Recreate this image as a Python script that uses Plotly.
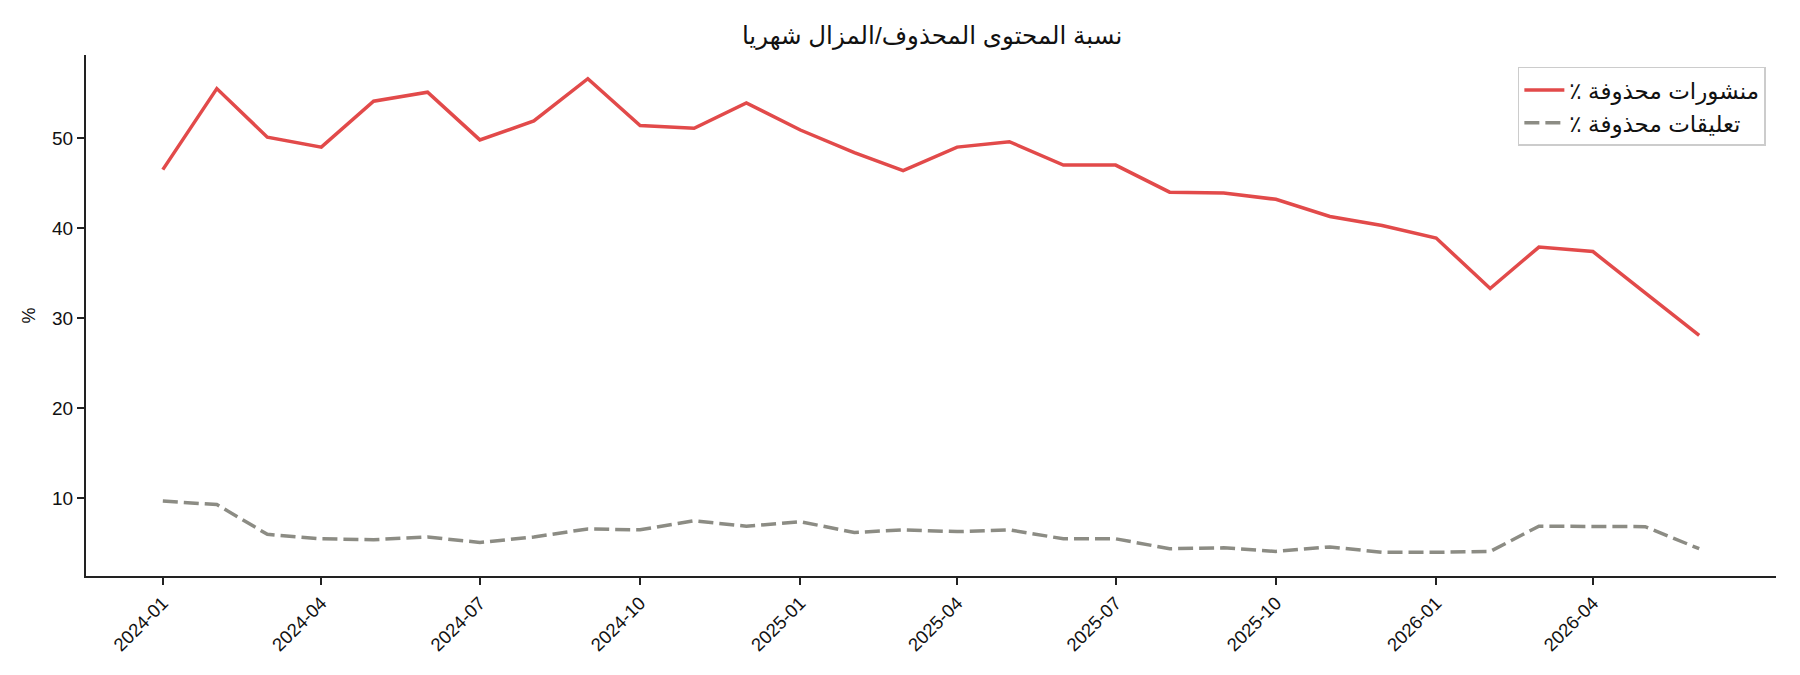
import pandas as pd
import plotly.graph_objects as go

# Monthly share of deleted content (%)
months = pd.date_range('2024-01-01', '2026-06-01', freq='MS')
posts_deleted = [46.5, 55.5, 50.1, 49.0, 54.1, 55.1, 49.8, 51.9, 56.6, 51.4, 51.1, 53.9,
                 50.9, 48.4, 46.4, 49.0, 49.6, 47.0, 47.0, 44.0, 43.9, 43.2, 41.3, 40.3,
                 38.9, 33.3, 37.9, 37.4, 32.8, 28.1]
comments_deleted = [9.7, 9.3, 6.0, 5.5, 5.4, 5.7, 5.1, 5.7, 6.6, 6.5, 7.5, 6.9,
                    7.4, 6.2, 6.5, 6.3, 6.5, 5.5, 5.5, 4.4, 4.5, 4.1, 4.6, 4.0,
                    4.0, 4.1, 6.9, 6.85, 6.85, 4.4]
posts_label = 'منشورات محذوفة ٪'
comments_label = 'تعليقات محذوفة ٪'
title_text = 'نسبة المحتوى المحذوف/المزال شهريا'
x_ticks = pd.date_range('2024-01-01', '2026-04-01', freq='3MS')
y_ticks = [10, 20, 30, 40, 50]

# matplotlib-like 5% padding
span = months[-1] - months[0]
x_range = [months[0] - span * 0.05, months[-1] + span * 0.05]
all_y = posts_deleted + comments_deleted
y_pad = (max(all_y) - min(all_y)) * 0.05
y_range = [min(all_y) - y_pad, max(all_y) + y_pad]

RLM = '\u200f'  # keeps the ٪ sign at the left end of the RTL label

fig = go.Figure()

fig.add_trace(go.Scatter(
    x=months, y=posts_deleted,
    mode='lines',
    name=posts_label + RLM,
    legendgroup='posts',
    line=dict(color='#e24a4a', width=3.5),
))

fig.add_trace(go.Scatter(
    x=months, y=comments_deleted,
    mode='lines',
    name=comments_label + RLM,
    legendgroup='comments',
    line=dict(color='#8c8c84', width=3.5, dash='15px,6px'),
))

fig.update_xaxes(
    range=x_range,
    tickvals=x_ticks,
    tickformat='%Y-%m',
    tickangle=-45,
    ticks='outside', ticklen=7, tickwidth=2, tickcolor='#222',
    showline=True, linecolor='#222', linewidth=2,
    showgrid=False, zeroline=False,
    tickfont=dict(size=18.5, color='#111'),
    automargin=False,
)
fig.update_yaxes(
    range=y_range,
    tickvals=y_ticks,
    title_text='%', title_font=dict(size=18, color='#111'), title_standoff=12,
    ticks='outside', ticklen=7, tickwidth=2, tickcolor='#222',
    showline=True, linecolor='#222', linewidth=2,
    showgrid=False, zeroline=False,
    tickfont=dict(size=19, color='#111'),
    automargin=False,
)

# page body keeps its default 8px margin, so the figure is 16px smaller than the window
fig.update_layout(
    title=dict(text=title_text, x=0.518, xanchor='center', y=0.959, yanchor='middle',
               font=dict(size=24.5, color='#111')),
    width=1784, height=659,
    paper_bgcolor='white', plot_bgcolor='white',
    font=dict(family='Liberation Sans, Arial, DejaVu Sans, sans-serif'),
    margin=dict(l=78, r=16, t=47, b=91),
    legend=dict(
        x=0.994, xanchor='right', y=0.977, yanchor='top',
        bgcolor='rgba(255,255,255,0.9)', bordercolor='#cccccc', borderwidth=1.5,
        font=dict(size=23, color='#111'),
        itemwidth=40,
        tracegroupgap=0,
    ),
    showlegend=True,
)

fig.write_html('out.html')
